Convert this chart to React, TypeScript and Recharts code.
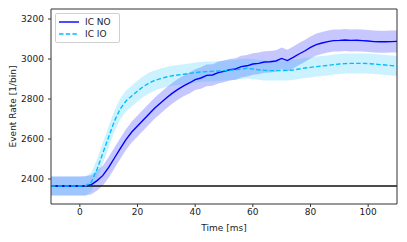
import {
  Area,
  ComposedChart,
  Line,
  ReferenceLine,
  XAxis,
  YAxis,
} from "recharts";

const TIME = [
  -10, -8, -6, -4, -2, 0, 2, 4, 6, 8, 10, 12, 14, 16, 18, 20, 22, 24, 26, 28,
  30, 32, 34, 36, 38, 40, 42, 44, 46, 48, 50, 52, 54, 56, 58, 60, 62, 64, 66,
  68, 70, 72, 74, 76, 78, 80, 82, 84, 86, 88, 90, 92, 94, 96, 98, 100, 102,
  104, 106, 108, 110,
];

const NO_MEAN = [
  2365, 2365, 2365, 2365, 2365, 2365, 2366, 2372, 2392, 2418, 2458, 2505,
  2552, 2597, 2635, 2665, 2695, 2725, 2755, 2780, 2805, 2828, 2848, 2866,
  2880, 2897, 2905, 2918, 2920, 2932, 2938, 2946, 2950, 2962, 2966, 2975,
  2978, 2985, 2986, 2990, 3003, 2992, 3008, 3025, 3040, 3058, 3072, 3080,
  3087, 3092, 3093, 3095, 3093, 3094, 3092, 3090, 3087, 3086, 3086, 3087,
  3088,
];

const NO_ERR = [
  48, 48, 48, 48, 48, 48, 48, 48, 50, 50, 52, 52, 52, 52, 52, 52, 52, 52, 52,
  52, 52, 52, 52, 52, 52, 52, 54, 54, 54, 54, 54, 54, 54, 54, 54, 54, 54, 54,
  54, 54, 54, 54, 55, 55, 55, 55, 55, 55, 55, 55, 55, 55, 55, 55, 55, 55, 55,
  55, 55, 55, 55,
];

const IO_MEAN = [
  2365, 2365, 2365, 2365, 2365, 2365, 2366, 2385, 2450, 2530, 2610, 2690,
  2750, 2790, 2815, 2840, 2862, 2880, 2893, 2902, 2910, 2916, 2920, 2924,
  2928, 2932, 2935, 2937, 2938, 2940, 2942, 2944, 2946, 2950, 2953, 2950,
  2946, 2943, 2942, 2942, 2942, 2943, 2945, 2950, 2955, 2958, 2962, 2965,
  2968, 2972, 2975, 2977, 2978, 2978, 2978, 2977, 2975, 2972, 2970, 2967,
  2965,
];

const IO_ERR = [
  48, 48, 48, 48, 48, 48, 48, 48, 50, 52, 52, 52, 52, 52, 52, 52, 52, 52, 50,
  50, 50, 50, 50, 50, 50, 50, 50, 50, 50, 50, 50, 50, 50, 50, 50, 50, 50, 50,
  50, 50, 50, 50, 50, 50, 50, 50, 50, 50, 50, 50, 50, 50, 50, 50, 50, 50, 50,
  50, 50, 50, 50,
];

const X_DOMAIN = [-10, 110];
const Y_DOMAIN = [2275, 3250];
const X_TICKS = [0, 20, 40, 60, 80, 100];
const Y_TICKS = [2400, 2600, 2800, 3000, 3200];
const BASELINE = 2365;

const data = TIME.map((t, i) => ({
  t,
  no: NO_MEAN[i],
  noBand: [NO_MEAN[i] - NO_ERR[i], NO_MEAN[i] + NO_ERR[i]],
  io: IO_MEAN[i],
  ioBand: [IO_MEAN[i] - IO_ERR[i], IO_MEAN[i] + IO_ERR[i]],
}));

const font = "'DejaVu Sans', sans-serif";
const tickStyle = { fontFamily: font, fontSize: 9, fill: "#222" };

function LegendBox() {
  return (
    <div
      style={{
        position: "absolute",
        left: 55,
        top: 13,
        fontFamily: font,
        fontSize: 9,
        color: "#222",
        background: "rgba(255,255,255,0.8)",
        border: "1px solid #d0d0d0",
        borderRadius: 2,
        padding: "2px 8px 2px 3px",
        lineHeight: "12px",
      }}
    >
      <div style={{ display: "flex", alignItems: "center" }}>
        <svg width={20} height={12} style={{ marginRight: 6 }}>
          <line x1={0} x2={20} y1={6} y2={6} stroke="#0000ff" strokeWidth={1.4} />
        </svg>
        IC NO
      </div>
      <div style={{ display: "flex", alignItems: "center" }}>
        <svg width={20} height={12} style={{ marginRight: 6 }}>
          <line
            x1={0}
            x2={20}
            y1={6}
            y2={6}
            stroke="#00bfff"
            strokeWidth={1.4}
            strokeDasharray="4.5 2.2"
          />
        </svg>
        IC IO
      </div>
    </div>
  );
}

export default function App() {
  return (
    <div
      style={{
        position: "absolute",
        left: 0,
        top: 0,
        width: 407,
        height: 242,
        background: "#fff",
      }}
    >
      <ComposedChart
        width={407}
        height={242}
        data={data}
        margin={{ top: 9, right: 10, bottom: 0, left: 0 }}
      >
        <XAxis
          dataKey="t"
          type="number"
          domain={X_DOMAIN}
          ticks={X_TICKS}
          allowDataOverflow
          stroke="#333"
          tickSize={3}
          tickMargin={2}
          tick={tickStyle}
          height={38}
          label={{
            value: "Time [ms]",
            position: "insideBottom",
            offset: 11,
            style: { ...tickStyle },
          }}
        />
        <YAxis
          type="number"
          domain={Y_DOMAIN}
          ticks={Y_TICKS}
          allowDataOverflow
          stroke="#333"
          tickSize={3}
          tickMargin={4}
          tick={tickStyle}
          width={51}
          label={{
            value: "Event Rate [1/bin]",
            angle: -90,
            position: "insideLeft",
            offset: 13,
            style: { ...tickStyle, textAnchor: "middle" },
          }}
        />
        <Area
          dataKey="noBand"
          type="linear"
          stroke="none"
          fill="#0000ff"
          fillOpacity={0.22}
          isAnimationActive={false}
        />
        <Area
          dataKey="ioBand"
          type="linear"
          stroke="none"
          fill="#00bfff"
          fillOpacity={0.2}
          isAnimationActive={false}
        />
        <ReferenceLine y={BASELINE} stroke="#111" strokeWidth={1.5} />
        <ReferenceLine y={Y_DOMAIN[1]} stroke="#333" strokeWidth={1} />
        <ReferenceLine x={X_DOMAIN[1]} stroke="#333" strokeWidth={1} />
        <Line
          dataKey="no"
          type="linear"
          stroke="#0000ff"
          strokeWidth={1.4}
          dot={false}
          isAnimationActive={false}
        />
        <Line
          dataKey="io"
          type="linear"
          stroke="#00bfff"
          strokeWidth={1.4}
          strokeDasharray="4.5 2.2"
          dot={false}
          isAnimationActive={false}
        />
      </ComposedChart>
      <LegendBox />
    </div>
  );
}
